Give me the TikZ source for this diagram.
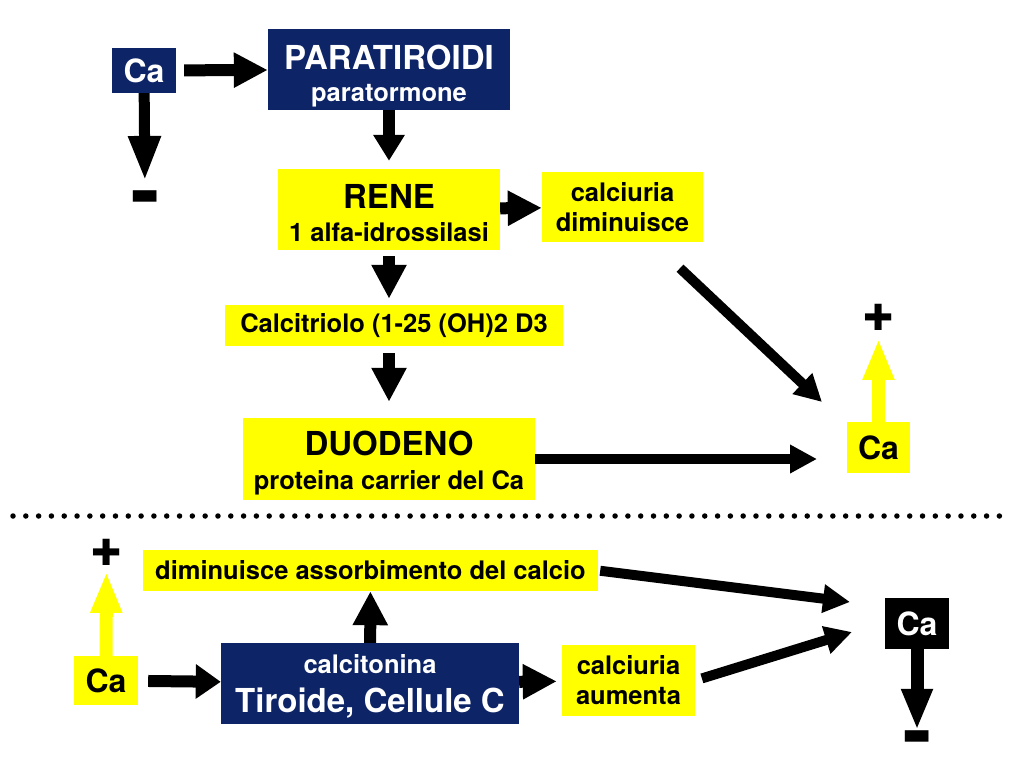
\documentclass[tikz,border=0pt]{standalone}
\usepackage{fontspec}
\setmainfont{TeX Gyre Heros}
\newfontfamily\symfont{DejaVu Sans}
\usepackage{tikz}
\usetikzlibrary{arrows.meta}
\definecolor{navy}{RGB}{13,36,102}
\definecolor{yel}{RGB}{255,255,0}
\newcommand{\fbig}{\fontsize{33}{33}\selectfont}

\tikzset{
  box/.style={inner sep=0pt, align=center},
  ybox/.style={box, fill=yel, text=black},
  nbox/.style={box, fill=navy, text=white},
  ca/.style={minimum width=64pt, minimum height=50pt, font=\bfseries\fontsize{32}{32}\selectfont},
  fat/.style={line width=12pt, -{Triangle[length=34pt,width=33pt]}},
  thin/.style={line width=10pt, -{Triangle[length=27pt,width=27pt]}},
  sign/.style={line width=13pt, -{Triangle[length=41pt,width=29pt]}},
  plus/.style={inner sep=0pt, font=\symfont\bfseries\fontsize{36}{36}\selectfont},
  minus/.style={inner sep=0pt, font=\symfont\fontsize{31}{31}\selectfont},
}

\begin{document}
\begin{tikzpicture}[x=1pt, y=-1pt]
  \useasboundingbox (0,0) rectangle (1024,768);

  \node[nbox, ca, minimum height=45pt] (caTL) at (144,70.5) {Ca};
  \node[nbox, minimum width=242pt, minimum height=81pt, font=\bfseries\fontsize{25.5}{32}\selectfont] (para) at (389,69.5) {\rule{0pt}{37pt}{\fbig PARATIROIDI}\\paratormone};
  \node[ybox, minimum width=222pt, minimum height=81pt, font=\bfseries\fontsize{25.5}{33}\selectfont] (rene) at (389,209.5) {\rule{0pt}{31pt}{\fbig RENE}\\1 alfa-idrossilasi};
  \node[ybox, minimum width=161pt, minimum height=70pt, font=\bfseries\fontsize{25.5}{30}\selectfont] (calcDim) at (622.5,207) {calciuria\\diminuisce};
  \node[ybox, minimum width=338pt, minimum height=41pt, font=\bfseries\fontsize{25.5}{30}\selectfont] (calcitriolo) at (394,325.5) {Calcitriolo (1-25 (OH)2 D3};
  \node[ybox, minimum width=292pt, minimum height=82pt, font=\bfseries\fontsize{25.5}{34}\selectfont] (duodeno) at (389,459) {\rule{0pt}{32pt}{\fbig DUODENO}\\proteina carrier del Ca};
  \node[ybox, ca, minimum width=63pt, minimum height=51pt] (caR) at (878.5,447.5) {Ca};
  \node[plus] (plusR) at (878.5,317) {✚};
  \node[minus] (minusTL) at (145,198) {▬};

  \coordinate (inR1) at (822,402);
  \coordinate (inR2) at (817,459);

  \path[fat] (caTL) edge[shorten <=8pt] (para)
        (para) edge[shorten >=8pt, -{Triangle[length=26pt,width=30pt]}] (rene)
        (rene) edge (calcDim)
        (rene.south) edge[shorten <=6pt, shorten >=6pt] (rene.south |- calcitriolo.north)
        (calcitriolo.south -| duodeno.north) edge[shorten <=7pt, shorten >=16pt] (duodeno.north);
  \path[thin] ([shift={(57.5,26)}]calcDim.south) edge (inR1)
        (duodeno.east) edge (inR2);
  \path[sign] (caTL) edge[line width=11pt, shorten >=10pt, -{Triangle[length=45pt,width=30pt]}] (minusTL);
  \path[sign, yel] (caR) edge[shorten >=8.5pt] (plusR);

  \draw[line width=5.5pt, line cap=round, dash pattern=on 0pt off 12.81pt] (13,516) -- (1012,516);

  \node[ybox, minimum width=455pt, minimum height=41pt, font=\bfseries\fontsize{25.5}{30}\selectfont] (dimAss) at (370.5,570.5) {diminuisce assorbimento del calcio};
  \node[ybox, ca, minimum height=49pt] (caBL) at (106,680.5) {Ca};
  \node[nbox, minimum width=298pt, minimum height=81pt, font=\bfseries\fontsize{25.5}{39}\selectfont] (tiroide) at (370,683.5) {\rule{0pt}{24.5pt}calcitonina\\{\fbig Tiroide, Cellule C}};
  \node[ybox, minimum width=133pt, minimum height=71pt, font=\bfseries\fontsize{25.5}{30}\selectfont] (calcAum) at (628.5,680.5) {calciuria\\aumenta};
  \node[box, ca, fill=black, text=white, minimum height=51pt] (caBR) at (917,623.5) {Ca};
  \node[plus] (plusBL) at (106.5,552) {✚};
  \node[minus] (minusBR) at (917,738) {▬};

  \coordinate (inB1) at (850,602);
  \coordinate (inB2) at (852,632);

  \path[fat] (caBL) edge[shorten <=10pt, -{Triangle[length=25pt,width=33pt]}] (tiroide)
        (tiroide) edge (dimAss)
        (tiroide) edge[shorten >=5pt] (calcAum);
  \path[thin] (dimAss.east) edge[shorten <=2pt] (inB1)
        (calcAum.east) edge[shorten <=7pt] (inB2);
  \path[sign, yel] (caBL) edge[shorten >=6.5pt] (plusBL);
  \path[sign] (caBR) edge[shorten >=1pt] (minusBR);
\end{tikzpicture}
\end{document}
